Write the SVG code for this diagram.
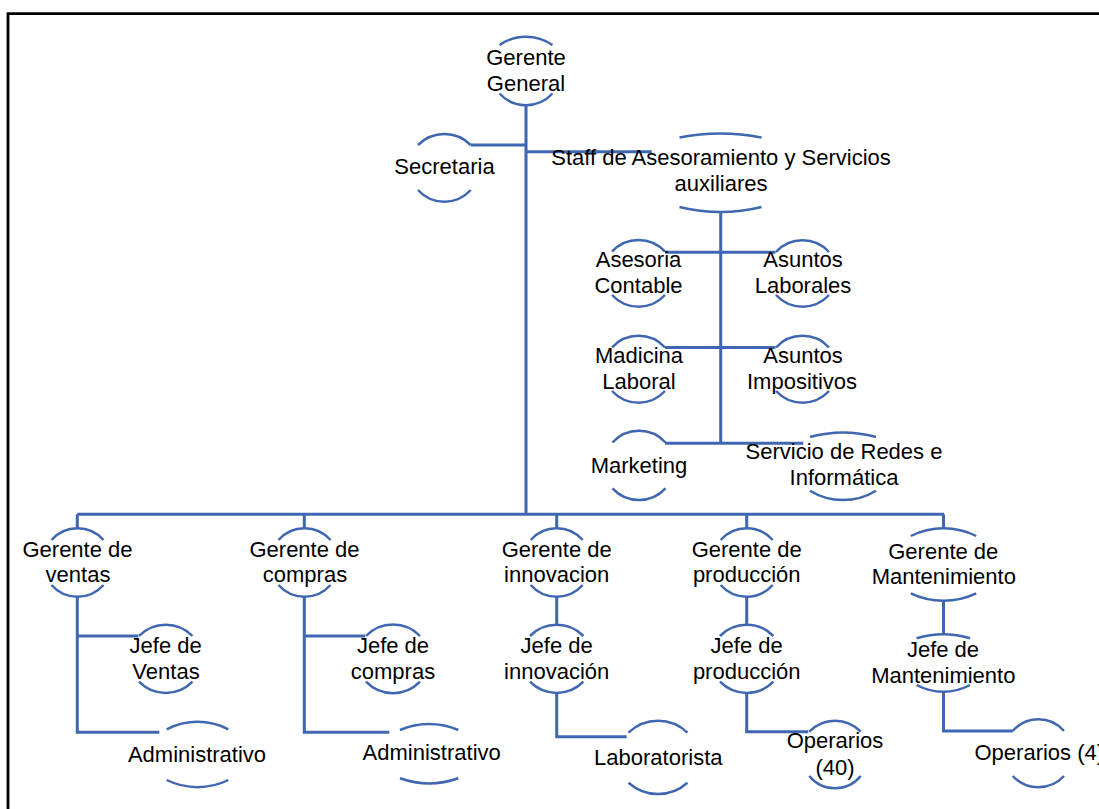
<svg xmlns="http://www.w3.org/2000/svg" width="1099" height="809" viewBox="0 0 1099 809">
<style>
.c{fill:none;stroke:#3F66B0;stroke-width:3}
.a{fill:none;stroke:#3F66B0;stroke-width:2.5}
text{font-family:"Liberation Sans",Arial,sans-serif;font-size:22px;fill:#000;text-anchor:middle}
</style>
<rect width="1099" height="809" fill="#fff"/>
<path d="M 8 809 V 13.6 H 1099" fill="none" stroke="#000" stroke-width="2.8"/>
<g id="connectors">
<path class="c" d="M 526 105 V 514.3"/>
<path class="c" d="M 470.7 145 H 526"/>
<path class="c" d="M 526 151.7 H 651.7"/>
<path class="c" d="M 720.7 212 V 443.3"/>
<path class="c" d="M 665 252.3 H 775.5"/>
<path class="c" d="M 665 347.5 H 775.5"/>
<path class="c" d="M 665 443.3 H 803.3"/>
<path class="c" d="M 77.3 514.3 H 944"/>
<path class="c" d="M 77.3 514.3 V 528.3 M 304.3 514.3 V 528.3 M 556.7 514.3 V 528.3 M 746.7 514.3 V 528.3 M 943.5 514.3 V 528.3"/>
<path class="c" d="M 77.3 596.7 V 732.3 H 159.3 M 77.3 636 H 138.3"/>
<path class="c" d="M 304.3 596.7 V 732.3 H 389.3 M 304.3 636 H 365"/>
<path class="c" d="M 556.7 596.7 V 625 M 556.7 692.7 V 736.7 H 626.7"/>
<path class="c" d="M 746.7 596.7 V 625 M 746.7 692.7 V 731.7 H 808.3"/>
<path class="c" d="M 943.5 600.7 V 634.3 M 943.5 691.7 V 731 H 1012.7"/>
</g>
<g id="gerente-general">
<path class="a" d="M 499.5 45 A 46.5 46.5 0 0 1 552.5 45"/>
<path class="a" d="M 499.5 93.5 A 36 36 0 0 0 552.5 93.5"/>
<text x="526" y="65">Gerente</text>
<text x="526" y="90.7">General</text>
</g>
<g id="secretaria">
<path class="a" d="M 418 145 A 37 37 0 0 1 470.7 145"/>
<path class="a" d="M 418 190 A 35.5 35.5 0 0 0 470.7 190"/>
<text x="444.5" y="174">Secretaria</text>
</g>
<g id="staff">
<path class="a" d="M 679.5 137.5 A 212 212 0 0 1 761.5 137.5"/>
<path class="a" d="M 679.5 207 A 170 170 0 0 0 761.5 207"/>
<text x="721" y="165">Staff de Asesoramiento y Servicios</text>
<text x="721" y="191">auxiliares</text>
</g>
<g id="asesoria-contable">
<path class="a" d="M 612 251.7 A 36 36 0 0 1 665 251.7"/>
<path class="a" d="M 612 295 A 36 36 0 0 0 665 295"/>
<text x="638.5" y="267.3">Asesoria</text>
<text x="638.5" y="293.3">Contable</text>
</g>
<g id="asuntos-laborales">
<path class="a" d="M 776 252 A 36 36 0 0 1 829 252"/>
<path class="a" d="M 776 295 A 36 36 0 0 0 829 295"/>
<text x="803" y="267.3">Asuntos</text>
<text x="803" y="293.3">Laborales</text>
</g>
<g id="madicina-laboral">
<path class="a" d="M 612 347.5 A 36 36 0 0 1 665 347.5"/>
<path class="a" d="M 612 391 A 36 36 0 0 0 665 391"/>
<text x="639" y="362.7">Madicina</text>
<text x="639" y="389.3">Laboral</text>
</g>
<g id="asuntos-impositivos">
<path class="a" d="M 776 347.5 A 36 36 0 0 1 829 347.5"/>
<path class="a" d="M 776 391 A 36 36 0 0 0 829 391"/>
<text x="803" y="362.7">Asuntos</text>
<text x="802" y="389.3">Impositivos</text>
</g>
<g id="marketing">
<path class="a" d="M 612.5 442.5 A 36 36 0 0 1 665.5 442.5"/>
<path class="a" d="M 612.5 488.3 A 36 36 0 0 0 665.5 488.3"/>
<text x="639" y="473">Marketing</text>
</g>
<g id="servicio-redes">
<path class="a" d="M 810 437 A 123 123 0 0 1 876 437"/>
<path class="a" d="M 810 490.7 A 63 63 0 0 0 876 490.7"/>
<text x="844" y="459.3">Servicio de Redes e</text>
<text x="844" y="485">Informática</text>
</g>
<g id="gerente-ventas">
<path class="a" d="M 51.5 540 A 34.7 34.7 0 0 1 103.5 540"/>
<path class="a" d="M 51.5 585 A 34.7 34.7 0 0 0 103.5 585"/>
<text x="77.5" y="557.3">Gerente de</text>
<text x="78" y="581.7">ventas</text>
</g>
<g id="jefe-ventas">
<path class="a" d="M 139 636 A 37.4 37.4 0 0 1 192.5 636"/>
<path class="a" d="M 139 681.7 A 37.4 37.4 0 0 0 192.5 681.7"/>
<text x="165.7" y="653.3">Jefe de</text>
<text x="166" y="679.3">Ventas</text>
</g>
<g id="administrativo-ventas">
<path class="a" d="M 166.7 729.3 A 67 67 0 0 1 228.3 729.3"/>
<path class="a" d="M 166.7 780 A 69.5 69.5 0 0 0 228.3 780"/>
<text x="197" y="761.7">Administrativo</text>
</g>
<g id="gerente-compras">
<path class="a" d="M 278.5 540 A 34.7 34.7 0 0 1 330.5 540"/>
<path class="a" d="M 278.5 585 A 34.7 34.7 0 0 0 330.5 585"/>
<text x="304.5" y="557.3">Gerente de</text>
<text x="305" y="581.7">compras</text>
</g>
<g id="jefe-compras">
<path class="a" d="M 366 636 A 37.4 37.4 0 0 1 420 636"/>
<path class="a" d="M 366 681.7 A 37.4 37.4 0 0 0 420 681.7"/>
<text x="393" y="653.3">Jefe de</text>
<text x="393" y="679.3">compras</text>
</g>
<g id="administrativo-compras">
<path class="a" d="M 400 730 A 73 73 0 0 1 458.3 730"/>
<path class="a" d="M 400 778.3 A 86.6 86.6 0 0 0 458.3 778.3"/>
<text x="431.7" y="760">Administrativo</text>
</g>
<g id="gerente-innovacion">
<path class="a" d="M 530.7 540 A 34.7 34.7 0 0 1 582.7 540"/>
<path class="a" d="M 530.7 585 A 34.7 34.7 0 0 0 582.7 585"/>
<text x="556.7" y="557.3">Gerente de</text>
<text x="556.7" y="581.7">innovacion</text>
</g>
<g id="jefe-innovacion">
<path class="a" d="M 530 636 A 37.4 37.4 0 0 1 583.4 636"/>
<path class="a" d="M 530 681.7 A 37.4 37.4 0 0 0 583.4 681.7"/>
<text x="556.7" y="653.3">Jefe de</text>
<text x="556.7" y="679.3">innovación</text>
</g>
<g id="laboratorista">
<path class="a" d="M 628.5 732.7 A 42.3 42.3 0 0 1 687.5 732.7"/>
<path class="a" d="M 628.5 782.7 A 44.2 44.2 0 0 0 687.5 782.7"/>
<text x="658.3" y="765">Laboratorista</text>
</g>
<g id="gerente-produccion">
<path class="a" d="M 720.7 540 A 34.7 34.7 0 0 1 772.7 540"/>
<path class="a" d="M 720.7 585 A 34.7 34.7 0 0 0 772.7 585"/>
<text x="746.7" y="557.3">Gerente de</text>
<text x="746.7" y="581.7">producción</text>
</g>
<g id="jefe-produccion">
<path class="a" d="M 720 636 A 37.4 37.4 0 0 1 773.4 636"/>
<path class="a" d="M 720 681.7 A 37.4 37.4 0 0 0 773.4 681.7"/>
<text x="746.7" y="653.3">Jefe de</text>
<text x="746.7" y="679.3">producción</text>
</g>
<g id="operarios-40">
<path class="a" d="M 809.3 731.7 A 35.5 35.5 0 0 1 860.7 731.7"/>
<path class="a" d="M 809.3 776 A 33 33 0 0 0 860.7 776"/>
<text x="835" y="748.3">Operarios</text>
<text x="835" y="775">(40)</text>
</g>
<g id="gerente-mantenimiento">
<path class="a" d="M 910.8 536 A 73.3 73.3 0 0 1 976.2 536"/>
<path class="a" d="M 910.8 593.3 A 76 76 0 0 0 976.2 593.3"/>
<text x="943.3" y="559.3">Gerente de</text>
<text x="943.8" y="584">Mantenimiento</text>
</g>
<g id="jefe-mantenimiento">
<path class="a" d="M 916.6 638.3 A 91 91 0 0 1 970 638.3"/>
<path class="a" d="M 916.6 685 A 56.6 56.6 0 0 0 970 685"/>
<text x="943" y="656.7">Jefe de</text>
<text x="943.3" y="682.7">Mantenimiento</text>
</g>
<g id="operarios-4">
<path class="a" d="M 1012.7 731 A 34.1 34.1 0 0 1 1064 731"/>
<path class="a" d="M 1012.7 776 A 34.9 34.9 0 0 0 1064 776"/>
<text x="1039.3" y="760">Operarios (4)</text>
</g>
</svg>
